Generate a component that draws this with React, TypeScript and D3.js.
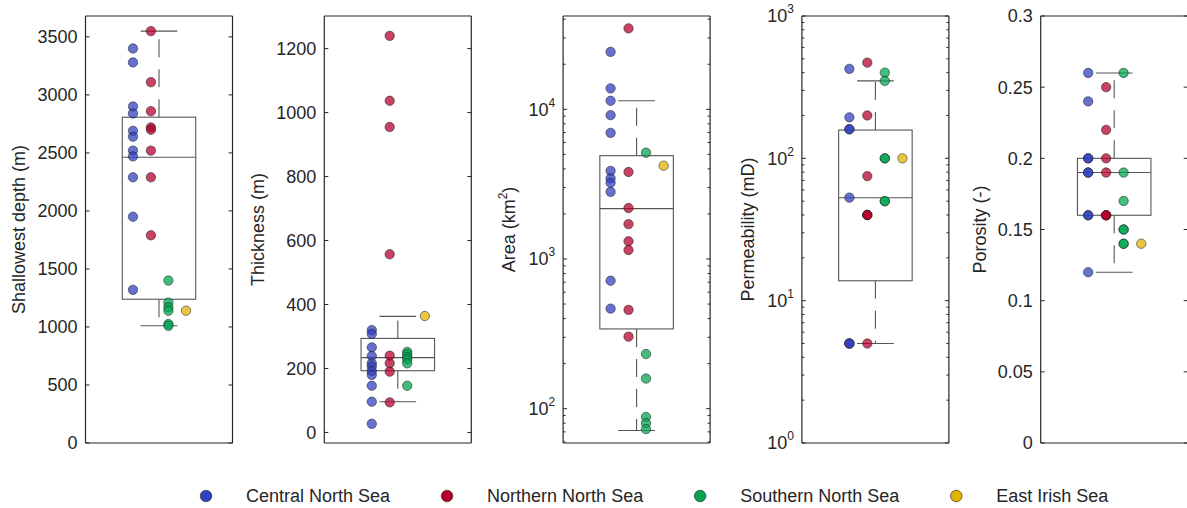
import React, { useEffect, useRef } from "react";
import * as d3 from "d3";

// ---- data ----
const regions = ["Central North Sea", "Northern North Sea", "Southern North Sea", "East Irish Sea"];
const regionColors = ["#3040C0", "#B5002D", "#00A651", "#E2B400"];

const depthCNS = [3400, 3280, 2900, 2840, 2690, 2640, 2520, 2470, 2290, 1950, 1320];
const depthNNS = [3550, 3110, 2860, 2720, 2700, 2520, 2290, 1790];
const depthSNS = [1400, 1210, 1170, 1140, 1025, 1010];
const depthEIS = [1140];
const depthBox = [1010, 1239, 2463, 2808, 3550]; // lower whisker, q1, median, q3, upper whisker
const depthTicks = [0, 500, 1000, 1500, 2000, 2500, 3000, 3500];

const thickCNS = [320, 308, 266, 239, 216, 206, 192, 180, 146, 96, 27];
const thickNNS = [1240, 1037, 955, 557, 240, 216, 190, 94];
const thickSNS = [252, 245, 236, 228, 216, 146];
const thickEIS = [364];
const thickBox = [96, 193, 234, 294, 363];
const thickTicks = [0, 200, 400, 600, 800, 1000, 1200];

const areaCNS = [24200, 13800, 11400, 9140, 6960, 3880, 3460, 3230, 2810, 716, 466];
const areaNNS = [34700, 3810, 2190, 1710, 1313, 1148, 457, 303];
const areaSNS = [5130, 232, 159, 88, 80, 73];
const areaEIS = [4200];
const areaBox = [71.5, 341, 2170, 4900, 11400];
const areaTicks = [100, 1000, 10000];

const permCNS = [425, 194, 160, 160, 53, 5, 5, 5];
const permNNS = [470, 200, 75, 40, 40, 40, 5];
const permSNS = [400, 350, 100, 100, 50, 50];
const permEIS = [100];
const permBox = [5, 13.8, 52.8, 158, 350];
const permTicks = [1, 10, 100, 1000];

const poroCNS = [0.26, 0.24, 0.2, 0.2, 0.19, 0.19, 0.16, 0.16, 0.12];
const poroNNS = [0.25, 0.22, 0.2, 0.19, 0.16, 0.16, 0.16];
const poroSNS = [0.26, 0.19, 0.17, 0.15, 0.15, 0.14, 0.14];
const poroEIS = [0.14];
const poroBox = [0.12, 0.16, 0.19, 0.2, 0.26];
const poroTicks = [0, 0.05, 0.1, 0.15, 0.2, 0.25, 0.3];

// ---- layout ----
const W = 1187;
const H = 508;
const TOP = 16;
const BOTTOM = 443;
const PANEL_W = 147;
const PANEL_LEFT0 = 85.5;
const PANEL_STEP = 238.8;
const GROUP_OFFSETS = [-0.177, -0.055, 0.064, 0.184];
const FONT = "'Liberation Sans', Arial, Helvetica, sans-serif";
const INK = "#262626";

type Panel = {
  label: string[];
  log: boolean;
  domain: [number, number];
  ticks: number[];
  series: number[][];
  box: number[];
  labelOffset: number;
  fmt?: (v: number) => string;
};

const panels: Panel[] = [
  { label: ["Shallowest depth (m)"], log: false, domain: [0, 3680], ticks: depthTicks,
    series: [depthCNS, depthNNS, depthSNS, depthEIS], box: depthBox, labelOffset: 67 },
  { label: ["Thickness (m)"], log: false, domain: [-33, 1302], ticks: thickTicks,
    series: [thickCNS, thickNNS, thickSNS, thickEIS], box: thickBox, labelOffset: 67 },
  { label: ["Area (km", "2", ")"], log: true, domain: [59, 42000], ticks: areaTicks,
    series: [areaCNS, areaNNS, areaSNS, areaEIS], box: areaBox, labelOffset: 54 },
  { label: ["Permeability (mD)"], log: true, domain: [1, 1000], ticks: permTicks,
    series: [permCNS, permNNS, permSNS, permEIS], box: permBox, labelOffset: 54 },
  { label: ["Porosity (-)"], log: false, domain: [0, 0.3], ticks: poroTicks,
    series: [poroCNS, poroNNS, poroSNS, poroEIS], box: poroBox, labelOffset: 61,
    fmt: (v: number) => String(+v.toFixed(2)) },
];

export default function App() {
  const ref = useRef<SVGSVGElement>(null);

  useEffect(() => {
    const svg = d3.select(ref.current);
    svg.selectAll("*").remove();
    svg.append("rect").attr("width", W).attr("height", H).attr("fill", "#fff");

    panels.forEach((p, pi) => {
      const left = PANEL_LEFT0 + pi * PANEL_STEP;
      const x = d3.scaleLinear().domain([0.5, 1.5]).range([left, left + PANEL_W]);
      const y: any = p.log
        ? d3.scaleLog().domain(p.domain).range([BOTTOM, TOP])
        : d3.scaleLinear().domain(p.domain).range([BOTTOM, TOP]);
      const g = svg.append("g");

      // box plot
      const [lw, q1, med, q3, uw] = p.box;
      const boxG = g.append("g").attr("stroke", "#555").attr("stroke-width", 1.1).attr("fill", "none");
      boxG.append("rect")
        .attr("x", x(0.75)).attr("y", y(q3))
        .attr("width", x(1.25) - x(0.75)).attr("height", y(q1) - y(q3));
      boxG.append("line").attr("x1", x(0.75)).attr("x2", x(1.25)).attr("y1", y(med)).attr("y2", y(med));
      [[q3, uw], [q1, lw]].forEach(([from, to]) => {
        boxG.append("line")
          .attr("x1", x(1)).attr("x2", x(1)).attr("y1", y(from)).attr("y2", y(to))
          .attr("stroke-dasharray", "18,12");
        boxG.append("line")
          .attr("x1", x(0.875)).attr("x2", x(1.125)).attr("y1", y(to)).attr("y2", y(to));
      });

      // points by region
      p.series.forEach((vals, ri) => {
        g.append("g").selectAll("circle").data(vals).join("circle")
          .attr("cx", x(1 + GROUP_OFFSETS[ri]))
          .attr("cy", (d: number) => y(d))
          .attr("r", 4.7)
          .attr("fill", regionColors[ri])
          .attr("fill-opacity", 0.74)
          .attr("stroke", "#1a1a1a")
          .attr("stroke-opacity", 0.75)
          .attr("stroke-width", 0.7);
      });

      // frame
      const frame = g.append("g").attr("stroke", INK).attr("stroke-width", 1.2).attr("fill", "none");
      frame.append("line").attr("x1", left).attr("x2", left).attr("y1", TOP).attr("y2", BOTTOM);
      frame.append("line").attr("x1", left + PANEL_W).attr("x2", left + PANEL_W).attr("y1", TOP).attr("y2", BOTTOM);
      frame.append("line").attr("x1", left).attr("x2", left + PANEL_W).attr("y1", TOP).attr("y2", TOP);
      frame.append("line").attr("x1", left).attr("x2", left + PANEL_W).attr("y1", BOTTOM).attr("y2", BOTTOM);

      // ticks (inward, both sides)
      const tickG = g.append("g").attr("stroke", INK).attr("stroke-width", 1);
      const drawTick = (v: number, len: number) => {
        const yy = y(v);
        tickG.append("line").attr("x1", left).attr("x2", left + len).attr("y1", yy).attr("y2", yy);
        tickG.append("line").attr("x1", left + PANEL_W - len).attr("x2", left + PANEL_W).attr("y1", yy).attr("y2", yy);
      };
      p.ticks.forEach((v) => drawTick(v, 4));
      if (p.log) {
        const [lo, hi] = p.domain;
        for (let dec = Math.floor(Math.log10(lo)); dec <= Math.ceil(Math.log10(hi)); dec++) {
          for (let m = 2; m <= 9; m++) {
            const v = m * Math.pow(10, dec);
            if (v >= lo && v <= hi) drawTick(v, 2.5);
          }
        }
      }

      // tick labels
      p.ticks.forEach((v) => {
        const t = g.append("text")
          .attr("x", left - 8).attr("y", y(v)).attr("dy", "0.36em")
          .attr("text-anchor", "end")
          .attr("font-family", FONT).attr("font-size", 18).attr("fill", INK);
        if (p.log) {
          const e = Math.round(Math.log10(v));
          t.append("tspan").text("10");
          t.append("tspan").attr("font-size", 12).attr("dy", "-0.75em").text(String(e));
        } else {
          t.text(p.fmt ? p.fmt(v) : String(v));
        }
      });

      // axis label
      const cy = (TOP + BOTTOM) / 2;
      const lx = left - p.labelOffset;
      const lab = g.append("text")
        .attr("transform", `translate(${lx},${cy}) rotate(-90)`)
        .attr("text-anchor", "middle").attr("dy", "0.35em")
        .attr("font-family", FONT).attr("font-size", 18).attr("fill", INK);
      if (p.label.length === 1) {
        lab.text(p.label[0]);
      } else {
        lab.append("tspan").text(p.label[0]);
        lab.append("tspan").attr("font-size", 12).attr("dy", "-0.7em").text(p.label[1]);
        lab.append("tspan").attr("dy", "0.47em").text(p.label[2]);
      }
    });

    // legend
    const legend = svg.append("g");
    let lxPos = 206;
    const ly = 496;
    regions.forEach((name, i) => {
      legend.append("circle")
        .attr("cx", lxPos).attr("cy", ly).attr("r", 5.8)
        .attr("fill", regionColors[i]).attr("stroke", "#333").attr("stroke-width", 0.7);
      const t = legend.append("text")
        .attr("x", lxPos + 40).attr("y", ly).attr("dy", "0.36em")
        .attr("font-family", FONT).attr("font-size", 18).attr("fill", INK)
        .text(name);
      const w = (t.node() as SVGTextElement).getComputedTextLength();
      lxPos += 40 + w + 57;
    });
  }, []);

  return (
    <svg
      ref={ref}
      width={W}
      height={H}
      style={{ position: "absolute", left: 0, top: 0, display: "block" }}
    />
  );
}
